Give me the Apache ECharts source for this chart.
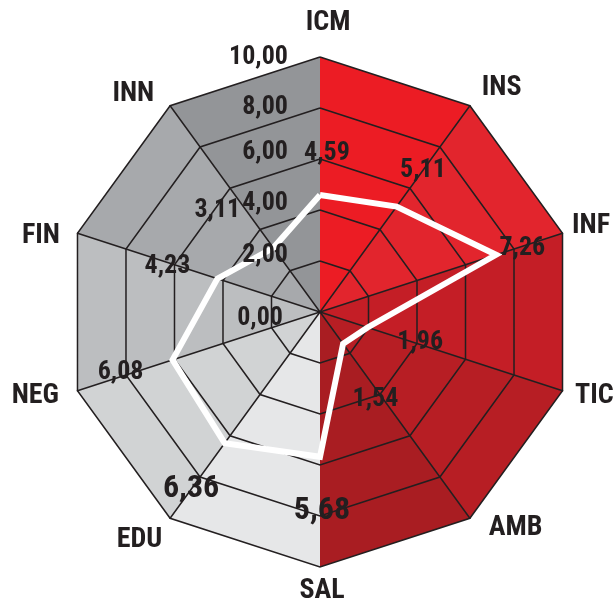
<!DOCTYPE html>
<html>
<head>
<meta charset="utf-8">
<script src="https://cdn.jsdelivr.net/npm/echarts@6/dist/echarts.min.js"></script>
<style>
html,body{margin:0;padding:0;background:#fff;}
#chart{width:613px;height:602px;}
</style>
</head>
<body>
<div id="chart"></div>
<script>
// ---- data (clockwise from top) ----
const categories = ['ICM', 'INS', 'INF', 'TIC', 'AMB', 'SAL', 'EDU', 'NEG', 'FIN', 'INN'];
const values = [4.59, 5.11, 7.26, 1.96, 1.54, 5.68, 6.36, 6.08, 4.23, 3.11];
const tickValues = [0, 2, 4, 6, 8, 10];
const axisMax = 10;

// ---- styling / layout helpers (not data) ----
const wedgeColors = ['#EC1C24', '#E2252D', '#C41E26', '#B71E24', '#A91D22',
                     '#E6E7E8', '#D1D3D4', '#BCBEC0', '#A7A9AC', '#939598'];
const labelRadius = [6.2, 6.87, 8.3, 4.09, 4.03, 7.8, 8.6, 8.18, 6.25, 5.58];
const labelOffset = [[7,0],[0,0],[1,2],[1,-2],[-5,4],[2,0],[0,0],[-1,-4],[-1,4],[-19,14]];
const labelSize = [26, 26, 26, 26, 26, 32, 32, 26, 26, 26];
const namePad = {
  ICM: [0, 0, 10, 16], INS: [0, 0, 20, 6], INF: [0, 0, 8, 0], TIC: [4, 0, 0, 3],
  AMB: [4, 0, 0, 13], SAL: [0, 0, 0, 4], EDU: [28, 2, 0, 0], NEG: [4, 9, 0, 0],
  FIN: [12, 8, 0, 0], INN: [0, 10, 8, 0]
};
const tickPad = {0: [12, 5, 0, 0], 2: [0, 0, 12, 0], 4: [0, 0, 14, 0], 6: [0, 0, 14, 0], 8: [0, 0, 2, 0], 10: [0, 0, 0, 0]};

const FONT = "Roboto, 'Open Sans', sans-serif";
const WEIGHT = 'bold condensed';
const INK = '#231f20';
const fmt = v => v.toFixed(2).replace('.', ',');

const CX = 320, CY = 312, R = 255;

// ECharts radar runs counter-clockwise; map clockwise category order onto it
const radarOrder = categories.map((_, p) => (categories.length - p) % categories.length);
const toRadar = arr => radarOrder.map(c => arr[c]);

const indicators = radarOrder.map(c => {
  const ind = { name: categories[c], min: 0, max: axisMax };
  if (c === 0 || c === 5) ind.axisLine = { show: false };
  return ind;
});
const labelIndicators = radarOrder.map(c => {
  const ind = { name: categories[c], min: 0, max: axisMax };
  if (c === 0) ind.axisLabel = { show: true };
  return ind;
});

// wedge polygons between adjacent axes
const wedgeSeries = categories.map((_, i) => {
  const arr = categories.map((__, j) => (j === i || j === (i + 1) % categories.length) ? axisMax : 0);
  return {
    type: 'radar', radarIndex: 0, z: -1, silent: true, symbol: 'none',
    lineStyle: { width: 0, opacity: 0 },
    areaStyle: { color: wedgeColors[i], opacity: 1 },
    data: [{ value: toRadar(arr) }]
  };
});

const rich = {};
categories.forEach(n => {
  rich[n] = { fontFamily: FONT, fontWeight: WEIGHT, fontSize: 28, color: INK, padding: namePad[n] };
});
const tickRich = {};
tickValues.forEach(v => {
  tickRich['t' + v] = { fontFamily: FONT, fontWeight: WEIGHT, fontSize: 26, color: INK, padding: tickPad[v] };
});

const option = {
  backgroundColor: '#ffffff',
  animation: false,
  radar: [
    {
      z: 0,
      center: [CX, CY], radius: R, startAngle: 90, shape: 'polygon', splitNumber: 5,
      indicator: indicators,
      axisNameGap: 10,
      axisName: {
        show: true, color: INK, fontFamily: FONT, fontWeight: WEIGHT, fontSize: 28,
        formatter: name => '{' + name + '|' + name + '}',
        rich: rich
      },
      axisLine: { show: true, lineStyle: { color: INK, width: 1.5 } },
      splitLine: { show: true, lineStyle: { color: INK, width: 1.5 } },
      splitArea: { show: false },
      axisTick: { show: false },
      axisLabel: { show: false }
    },
    {
      // overlay radar carrying only the value scale labels (drawn above the white line)
      z: 10,
      center: [CX, CY], radius: R, startAngle: 90, shape: 'polygon', splitNumber: 5,
      indicator: labelIndicators,
      axisName: { show: false },
      axisLine: { show: false },
      splitLine: { show: false },
      splitArea: { show: false },
      axisTick: { show: false },
      axisLabel: {
        show: false, margin: 32, color: INK, fontFamily: FONT, fontWeight: WEIGHT, fontSize: 26,
        formatter: v => '{t' + v + '|' + fmt(v) + '}',
        rich: tickRich
      }
    }
  ],
  polar: { center: [CX, CY], radius: R },
  angleAxis: { type: 'category', data: categories, startAngle: 90, clockwise: true, boundaryGap: false, show: false },
  radiusAxis: { type: 'value', min: 0, max: axisMax, show: false },
  series: wedgeSeries.concat([
    {
      type: 'radar', radarIndex: 0, z: 2, symbol: 'none', silent: true,
      lineStyle: { color: '#ffffff', width: 6, join: 'miter' },
      areaStyle: { opacity: 0 },
      data: [{ value: toRadar(values) }]
    },
    {
      type: 'scatter', coordinateSystem: 'polar', z: 5, silent: true,
      symbolSize: 1, itemStyle: { color: 'rgba(0,0,0,0)', opacity: 1 },
      data: categories.map((c, i) => ({
        value: [labelRadius[i], c],
        label: {
          show: true, position: 'inside', formatter: fmt(values[i]),
          fontFamily: FONT, fontWeight: WEIGHT, fontSize: labelSize[i], color: INK, opacity: 1,
          offset: labelOffset[i]
        }
      }))
    }
  ])
};

const chart = echarts.init(document.getElementById('chart'), null, { renderer: 'canvas' });
chart.setOption(option);
</script>
</body>
</html>
